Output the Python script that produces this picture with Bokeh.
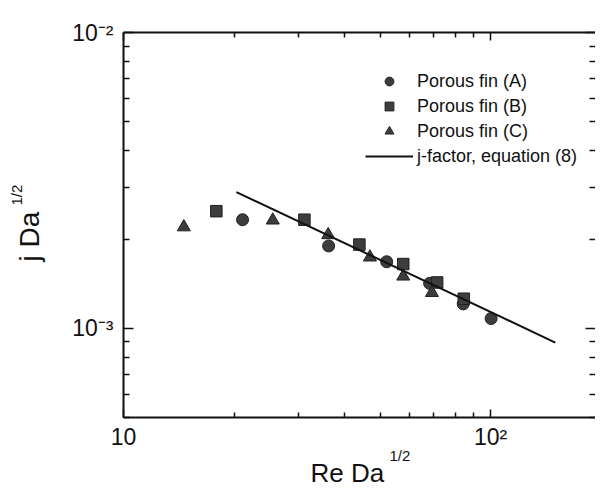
from bokeh.plotting import figure
from bokeh.models import (LogAxis, Legend, LegendItem, CustomJSTickFormatter,
                          Range1d, FixedTicker, Title)
from bokeh.embed import file_html
from bokeh.resources import INLINE

# ---- data ----
fin_a_x = [21.1, 36.2, 52.1, 68.2, 84.2, 100.3]
fin_a_y = [2.33e-3, 1.90e-3, 1.68e-3, 1.42e-3, 1.21e-3, 1.08e-3]
fin_b_x = [17.9, 31.1, 43.9, 57.8, 71.5, 84.5]
fin_b_y = [2.49e-3, 2.33e-3, 1.92e-3, 1.65e-3, 1.43e-3, 1.26e-3]
fin_c_x = [14.6, 25.5, 36.1, 46.9, 57.8, 69.2]
fin_c_y = [2.20e-3, 2.32e-3, 2.07e-3, 1.74e-3, 1.50e-3, 1.32e-3]
eq_x = [20.3, 150.0]
eq_y = [2.89e-3, 8.96e-4]

legend_labels = ["Porous fin (A)", "Porous fin (B)", "Porous fin (C)", "j-factor, equation (8)"]

x_major = [10, 100]
x_tick_labels = ["10", "10\u00b2"]
x_minor = [k * 10 ** e for e in (1, 2) for k in range(2, 10)]
y_major = [1e-3, 1e-2]
y_tick_labels = ["10\u207b\u00b3", "10\u207b\u00b2"]
y_minor = [k * 10.0 ** e for e in (-4, -3) for k in range(2, 10)]

FONT = "Liberation Sans"
INK = "#111111"
MARK_FILL = "#3d3d3d"
MARK_LINE = "#202020"

p = figure(x_axis_type="log", y_axis_type="log",
           x_range=Range1d(10, 193), y_range=Range1d(5e-4, 1e-2),
           frame_width=472, frame_height=385,
           min_border_left=123, min_border_right=0, min_border_top=32, min_border_bottom=69,
           output_backend="svg", toolbar_location=None)
p.background_fill_color = "white"
p.border_fill_color = "white"
p.outline_line_color = None
p.xgrid.visible = False
p.ygrid.visible = False

blank = CustomJSTickFormatter(code="return ''")
LABEL_CODE = """
const lt = Math.log10(tick);
for (let i = 0; i < tv.length; i++) {
  if (Math.abs(Math.log10(tv[i]) - lt) < 1e-6) return labs[i];
}
return '';
"""

def style_axis(ax, ticks_major, ticks_minor, line=True, major=9, minor=5):
    ax.ticker = FixedTicker(ticks=ticks_major, minor_ticks=ticks_minor)
    ax.formatter = blank
    ax.major_label_standoff = 0
    ax.axis_label_standoff = 0
    ax.major_tick_in = major
    ax.major_tick_out = 0
    ax.minor_tick_in = minor
    ax.minor_tick_out = 0
    ax.major_tick_line_color = INK
    ax.minor_tick_line_color = INK
    ax.major_tick_line_width = 1.5
    ax.minor_tick_line_width = 1.5
    ax.axis_line_color = INK if line else None
    ax.axis_line_width = 2

xax = p.xaxis[0]
yax = p.yaxis[0]
style_axis(xax, x_major, x_minor, major=8, minor=5)
style_axis(yax, y_major, y_minor, major=10, minor=6)

xax.formatter = CustomJSTickFormatter(args=dict(tv=x_major, labs=x_tick_labels), code=LABEL_CODE)
xax.major_label_standoff = 6
xax.major_label_text_font = FONT
xax.major_label_text_font_size = "23px"
xax.major_label_text_color = INK

yax.formatter = CustomJSTickFormatter(args=dict(tv=y_major, labs=y_tick_labels), code=LABEL_CODE)
yax.major_label_standoff = 10
yax.major_label_text_font = FONT
yax.major_label_text_font_size = "23px"
yax.major_label_text_color = INK
yax.major_label_text_baseline = "alphabetic"
# y title: non-breaking spaces shift the centred text toward the bottom
yax.axis_label = "j Da\u00a0\u00a0\u00a0"
yax.axis_label_standoff = 24
yax.axis_label_text_font = FONT
yax.axis_label_text_font_size = "28px"
yax.axis_label_text_font_style = "normal"
yax.axis_label_text_color = INK

top_ax = LogAxis()
right_ax = LogAxis()
style_axis(top_ax, x_major, x_minor, major=8, minor=5)
style_axis(right_ax, y_major, y_minor, line=False, major=10, minor=6)
p.add_layout(top_ax, "above")
p.add_layout(right_ax, "right")

ra = p.scatter(fin_a_x, fin_a_y, marker="circle", size=12,
               fill_color=MARK_FILL, line_color=MARK_LINE, line_width=1)
rb = p.scatter(fin_b_x, fin_b_y, marker="square", size=11.5,
               fill_color=MARK_FILL, line_color=MARK_LINE, line_width=1)
rc = p.scatter(fin_c_x, fin_c_y, marker="triangle", size=13,
               fill_color=MARK_FILL, line_color=MARK_LINE, line_width=1)
rl = p.line(eq_x, eq_y, line_color=INK, line_width=2)

legend = Legend(items=[LegendItem(label=legend_labels[0], renderers=[ra]),
                       LegendItem(label=legend_labels[1], renderers=[rb]),
                       LegendItem(label=legend_labels[2], renderers=[rc]),
                       LegendItem(label=legend_labels[3], renderers=[rl])],
                location=(242, 250), padding=0, margin=0,
                border_line_color=None, background_fill_alpha=0,
                glyph_width=48, glyph_height=22, label_height=22, spacing=3,
                label_standoff=4, label_text_font=FONT, label_text_font_size="18px",
                label_text_color=INK)
p.add_layout(legend)

def title(text, side, size, offset, standoff, valign):
    p.add_layout(Title(text=text, align="left", offset=offset, standoff=standoff,
                       vertical_align=valign, text_font=FONT, text_font_size=size,
                       text_font_style="normal", text_color=INK), side)

# raised exponents of the axis titles (rows stack outward from the frame)
title("1/2", "below", "15px", 266, -15, "bottom")
title("Re Da", "below", "26px", 187, -2, "bottom")
title("1/2", "left", "15px", 212, -26, "bottom")

open("out.html", "w").write(file_html(p, INLINE))
